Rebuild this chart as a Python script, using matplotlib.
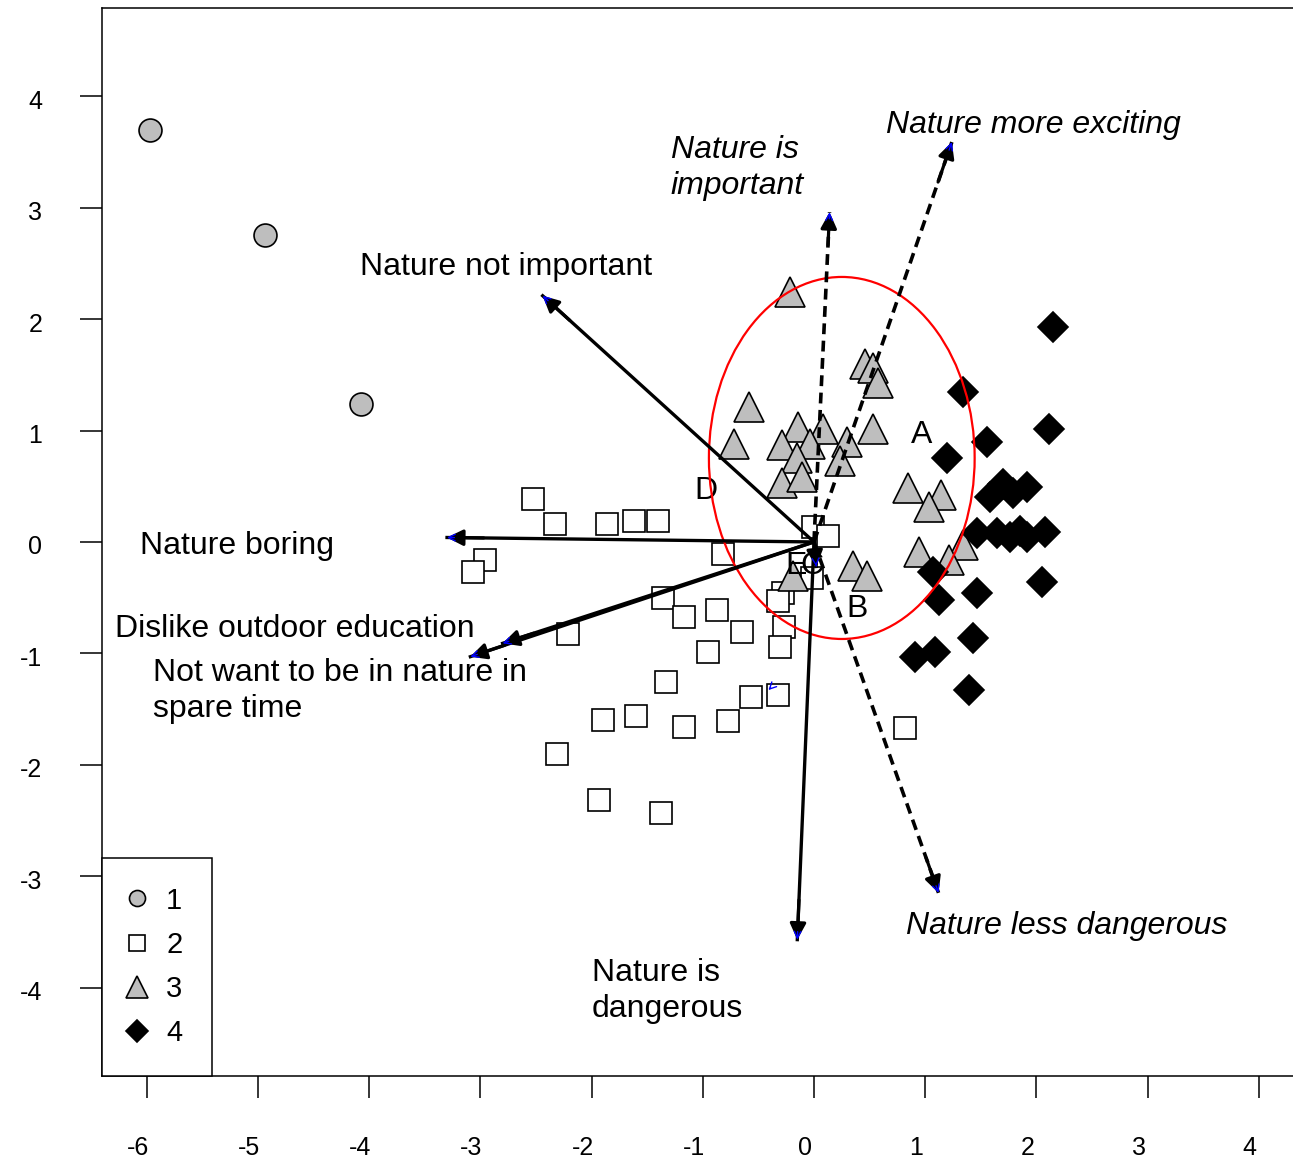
import matplotlib
matplotlib.use('Agg')
import matplotlib.pyplot as plt
from matplotlib.patches import Ellipse
from matplotlib.transforms import ScaledTranslation

plt.rcParams['font.family'] = ['Liberation Sans', 'DejaVu Sans']
plt.rcParams['axes.unicode_minus'] = False

# group 1 (grey circles)
x1 = [-5.97, -4.94, -4.07]
y1 = [3.70, 2.76, 1.24]

# group 2 (open squares)
x2 = [-2.53, -2.33, -1.86, -1.62, -1.40, -2.96, -3.07, -0.82, -0.01, 0.13,
      -0.02, -0.28, -0.32, -0.27, -0.31, -1.36, -1.17, -0.87, -0.65, -2.21,
      -0.95, -1.33, -1.90, -1.60, -1.17, -0.77, -0.57, -0.32, -2.31, -1.93,
      -1.38, 0.82]
y2 = [0.39, 0.16, 0.16, 0.19, 0.19, -0.16, -0.27, -0.11, 0.13, 0.05,
      -0.32, -0.46, -0.53, -0.76, -0.94, -0.50, -0.67, -0.61, -0.81, -0.83,
      -0.99, -1.26, -1.60, -1.56, -1.66, -1.61, -1.39, -1.37, -1.90, -2.32,
      -2.43, -1.67]

# group 3 (grey triangles)
x3 = [-0.22, 0.46, 0.53, 0.58, -0.58, -0.72, -0.14, 0.08, 0.53, -0.29,
      -0.04, 0.30, -0.15, 0.23, -0.29, -0.11, 0.85, 1.14, 1.03, 0.94,
      1.34, 1.21, 0.35, 0.48, -0.19]
y3 = [2.24, 1.60, 1.56, 1.43, 1.21, 0.88, 1.03, 1.01, 1.01, 0.87,
      0.88, 0.90, 0.75, 0.73, 0.53, 0.58, 0.48, 0.42, 0.31, -0.09,
      -0.03, -0.16, -0.22, -0.31, -0.31]

# group 4 (black diamonds)
x4 = [2.15, 1.34, 1.56, 2.11, 1.20, 1.92, 1.70, 1.58, 1.79, 1.47,
      1.65, 1.76, 1.85, 1.92, 2.08, 1.07, 1.47, 1.12, 2.05, 1.43,
      0.91, 1.09, 1.39]
y4 = [1.93, 1.35, 0.90, 1.01, 0.75, 0.49, 0.52, 0.40, 0.44, 0.08,
      0.08, 0.04, 0.10, 0.04, 0.09, -0.27, -0.46, -0.52, -0.36, -0.86,
      -1.03, -0.99, -1.33]

# fitted vectors (solid)
solid_x = [-2.44, -3.30, -2.80, -3.09, -0.15, 0.02]
solid_y = [2.21, 0.04, -0.91, -1.03, -3.57, -0.22]
# fitted vectors (dashed)
dash_x = [0.14, 1.24, 1.12]
dash_y = [2.96, 3.59, -3.15]
# zero-length vectors (only head drawn)
stub_x = [-0.41]
stub_y = [-1.33]

# confidence ellipse
ell_center = (0.25, 0.754)
ell_w, ell_h = 2.39, 3.25

fig = plt.figure(figsize=(12.93, 11.68), dpi=100)
ax = fig.add_axes([0.0789, 0.0788, 0.9211, 0.9144])
ax.set_xlim(-6.403, 4.308)
ax.set_ylim(-4.794, 4.794)

ms_kw = dict(linestyle='none', markeredgecolor='black', markeredgewidth=1.2)
ax.plot(x1, y1, marker='o', markersize=16.5, markerfacecolor='#BEBEBE', label='1', **ms_kw)
ax.plot(x2, y2, marker='s', markersize=16, markerfacecolor='white', label='2', **ms_kw)
ax.plot(x3, y3, marker='^', markersize=22, markerfacecolor='#BEBEBE', label='3', **ms_kw)
ax.plot(x4, y4, marker='D', markersize=15.5, markerfacecolor='black', label='4', **ms_kw)


def vector(ex, ey, ls, lw):
    ax.plot([0, ex], [0, ey], color='black', lw=lw, linestyle=ls, zorder=5)
    ax.annotate('', xy=(ex, ey), xytext=(0.9 * ex, 0.9 * ey),
                arrowprops=dict(arrowstyle='-|>', color='black', lw=2.3,
                                mutation_scale=24, shrinkA=0, shrinkB=0), zorder=6)
    ax.annotate('', xy=(ex, ey), xytext=(0.98 * ex, 0.98 * ey),
                arrowprops=dict(arrowstyle='->', color='blue', lw=1,
                                mutation_scale=12, shrinkA=0, shrinkB=0), zorder=7)


for ex, ey in zip(solid_x, solid_y):
    vector(ex, ey, '-', 2.4)
for ex, ey in zip(dash_x, dash_y):
    vector(ex, ey, (0, (3, 1.8)), 2.6)
for ex, ey in zip(stub_x, stub_y):
    ax.annotate('', xy=(ex, ey), xytext=(ex + 0.02, ey + 0.02),
                arrowprops=dict(arrowstyle='->', color='blue', lw=1,
                                mutation_scale=12, shrinkA=0, shrinkB=0), zorder=7)

ax.add_patch(Ellipse(ell_center, ell_w, ell_h, fill=False, edgecolor='red', lw=1.6, zorder=4))

fs = 23
tk = dict(fontsize=fs, va='center', ha='left', linespacing=1.27)
ax.text(-1.29, 3.36, 'Nature is\nimportant', style='italic', **tk)
ax.text(0.65, 3.74, 'Nature more exciting', style='italic', **tk)
ax.text(-4.08, 2.47, 'Nature not important', **tk)
ax.text(-6.06, -0.04, 'Nature boring', **tk)
ax.text(-6.29, -0.78, 'Dislike outdoor education', **tk)
ax.text(-5.94, -1.34, 'Not want to be in nature in\nspare time', zorder=8, **tk)
ax.text(-2.00, -4.03, 'Nature is\ndangerous', **tk)
ax.text(0.83, -3.45, 'Nature less dangerous', style='italic', **tk)

for lab, lx, ly in [('A', 0.97, 0.96), ('B', 0.39, -0.60), ('D', -0.97, 0.46),
                    ('E', -0.16, -0.22), ('C', -0.02, -0.22)]:
    ax.text(lx, ly, lab, fontsize=fs, ha='center', va='center', zorder=3)

ax.set_xticks(range(-6, 5))
ax.set_yticks(range(-4, 5))
ax.tick_params(direction='out', length=16, width=1.1, labelsize=18, pad=27)
for sp in ['left', 'bottom', 'top']:
    ax.spines[sp].set_linewidth(1.1)
ax.spines['right'].set_visible(False)
for lbl in ax.get_xticklabels():
    lbl.set_transform(lbl.get_transform() + ScaledTranslation(-0.09, 0, fig.dpi_scale_trans))
for lbl in ax.get_yticklabels():
    lbl.set_transform(lbl.get_transform() + ScaledTranslation(0, -0.03, fig.dpi_scale_trans))

leg = ax.legend(loc='lower left', bbox_to_anchor=(0, 0), borderaxespad=0, fontsize=21,
                markerscale=0.7, fancybox=False, framealpha=1, edgecolor='black',
                borderpad=1.0, handlelength=0.4, handletextpad=0.8, labelspacing=0.55)
leg.get_frame().set_linewidth(1.1)
leg.set_zorder(10)

fig.savefig('out.png', dpi=100)
